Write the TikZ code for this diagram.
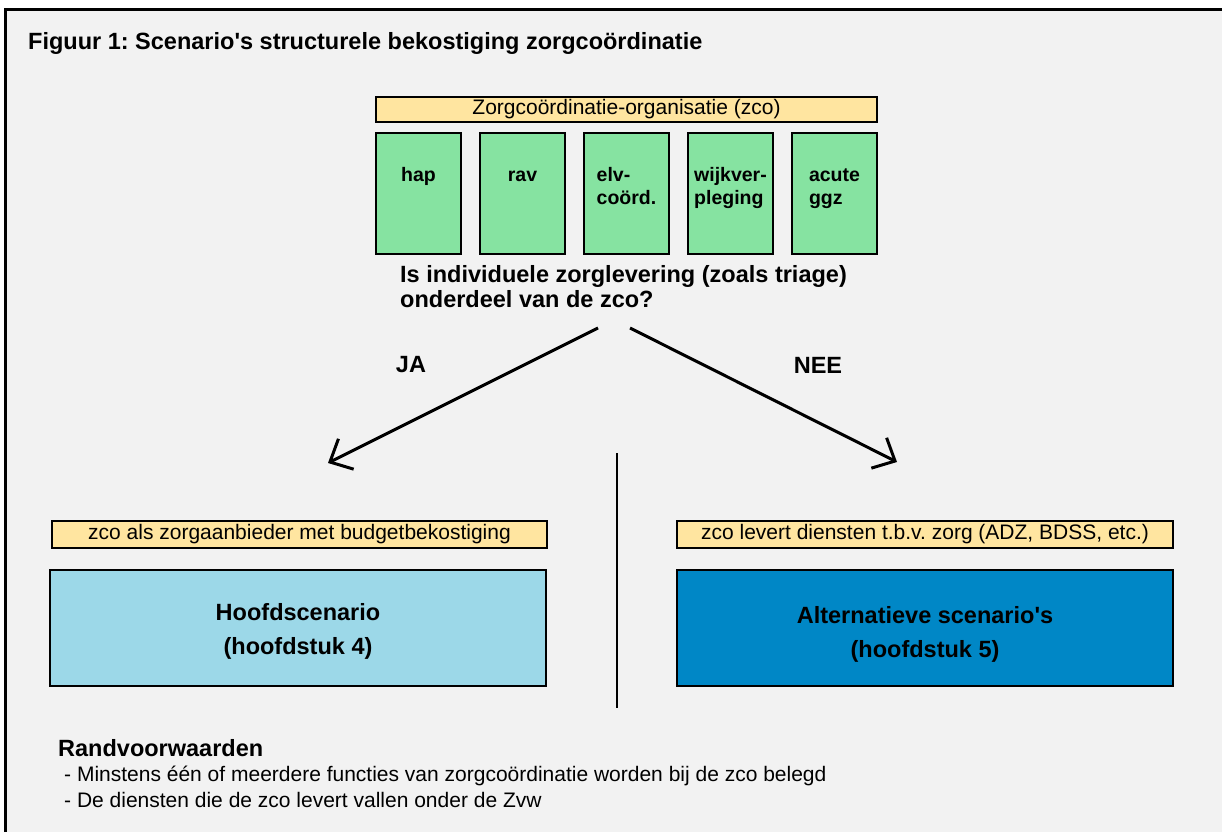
\documentclass[tikz,border=0pt]{standalone}
\usepackage{fontspec}
\setmainfont{Liberation Sans}
\usepackage{xcolor}
\usetikzlibrary{arrows.meta}
\definecolor{achtergrond}{HTML}{F2F2F2}
\definecolor{zcoGeel}{HTML}{FFE5A0}
\definecolor{functieGroen}{HTML}{86E3A1}
\definecolor{lichtBlauw}{HTML}{9CD8E8}
\definecolor{donkerBlauw}{HTML}{0087C6}

\begin{document}
\frenchspacing
\begin{tikzpicture}[x=1pt, y=-1pt,
	kader/.style={draw=black, line width=2.5pt},
	geel/.style={kader, fill=zcoGeel, inner sep=0pt, font=\fontsize{21}{24}\selectfont},
	groen/.style={kader, fill=functieGroen, minimum width=85pt, minimum height=121pt},
	functie/.style={inner sep=0pt, align=left, font=\fontsize{19.5}{23}\selectfont\bfseries},
	scenario/.style={kader, minimum width=496pt, minimum height=116pt},
	scenariotekst/.style={inner sep=0pt, align=center, font=\fontsize{23.5}{34}\selectfont\bfseries},
	groot/.style={inner sep=0pt, font=\fontsize{23.5}{25}\selectfont\bfseries},
	klein/.style={inner sep=0pt, font=\fontsize{21}{24}\selectfont},
	pijl/.style={line width=3pt, -{Straight Barb[length=18pt, width=34pt]}}
	]
	\useasboundingbox (0,0) rectangle (1222,832);
	\fill[white] (0,0) rectangle (1222,832);
	\fill[achtergrond] (5,10) rectangle (1222,832);
	\draw[line width=3pt] (5,832) -- (5,10) -- (1222,10);
	
	\node[groot, anchor=base west] (titel) at (28,50) {Figuur 1: Scenario\textquotesingle s structurele bekostiging zorgco\"ordinatie};
	
	\node[geel, minimum width=501pt, minimum height=25pt] (zco) at (626.5,109.5) {Zorgco\"ordinatie-organisatie (zco)};
	
	\node[groen] (hap) at (418.5,193.5) {};
	\node[groen] (rav) at (522.5,193.5) {};
	\node[groen] (elv) at (626.5,193.5) {};
	\node[groen] (wijk) at (730.5,193.5) {};
	\node[groen] (ggz) at (834.5,193.5) {};
	
	\node[functie, anchor=north] (haptekst) at ([yshift=-33pt]hap.north) {\strut hap};
	\node[functie, anchor=north] (ravtekst) at ([yshift=-33pt]rav.north) {\strut rav};
	\node[functie, anchor=north] (elvtekst) at ([yshift=-33pt]elv.north) {\strut elv-\\coörd.};
	\node[functie, anchor=north] (wijktekst) at ([yshift=-33pt]wijk.north) {\strut wijkver-\\pleging};
	\node[functie, anchor=north] (ggztekst) at ([yshift=-33pt]ggz.north) {\strut acute\\ggz};
	
	\node[groot, anchor=north west, align=left] (vraag) at (400,265) {\strut Is individuele zorglevering (zoals triage)\\onderdeel van de zco?};
	
	\coordinate (jastart) at (598,328);
	\coordinate (jaeind) at (328,463);
	\coordinate (neestart) at (630,328);
	\coordinate (neeeind) at (897,462);
	\draw[pijl] (jastart) -- (jaeind);
	\draw[pijl] (neestart) -- (neeeind);
	\node[groot] (ja) at (411,365) {JA};
	\node[groot] (nee) at (818,365) {NEE};
	
	\coordinate (scheidboven) at (617,453);
	\coordinate (scheidonder) at (617,708);
	\draw[line width=2pt] (scheidboven) -- (scheidonder);
	
	\node[geel, minimum width=495pt, minimum height=27pt] (budget) at (299.5,534.5) {zco als zorgaanbieder met budgetbekostiging};
	\node[geel, minimum width=496pt, minimum height=27pt] (diensten) at (925,534.5) {zco levert diensten t.b.v. zorg (ADZ, BDSS, etc.)};
	
	\node[scenario, fill=lichtBlauw] (hoofd) at (298,628) {};
	\node[scenario, fill=donkerBlauw] (alt) at (925,628) {};
	\node[scenariotekst] (hoofdtekst) at ([yshift=-3pt]hoofd.center) {Hoofdscenario\\(hoofdstuk 4)};
	\node[scenariotekst] (alttekst) at ([yshift=-6pt]alt.center) {Alternatieve scenario\textquotesingle s\\(hoofdstuk 5)};
	
	\node[groot, anchor=west] (rand) at (58,748) {Randvoorwaarden};
	\node[klein, anchor=west] (eis1) at (64,776) {- Minstens één of meerdere functies van zorgcoördinatie worden bij de zco belegd};
	\node[klein, anchor=west] (eis2) at (64,800) {- De diensten die de zco levert vallen onder de Zvw};
	
\end{tikzpicture}
\end{document}
